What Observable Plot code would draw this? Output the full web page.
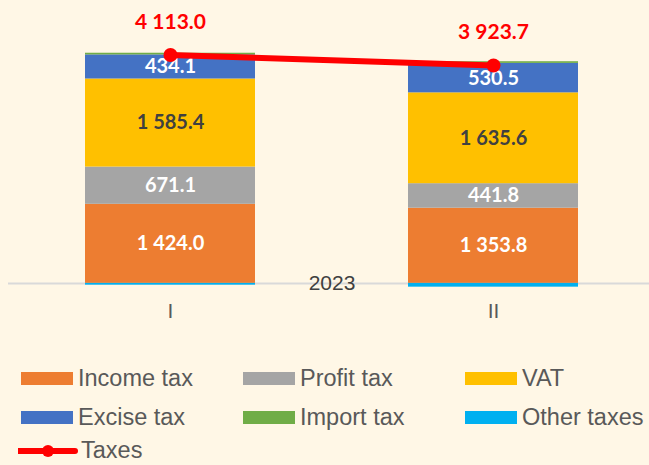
<!DOCTYPE html>
<html>
<head>
<meta charset="utf-8">
<script src="https://cdn.jsdelivr.net/npm/d3@7"></script>
<script src="https://cdn.jsdelivr.net/npm/@observablehq/plot@0.6"></script>
<style>
  html, body { margin: 0; padding: 0; background: #FFF7E6; }
  #wrap { width: 649px; height: 465px; overflow: hidden; background: #FFF7E6; }
  #legend { padding-top: 24px; padding-left: 21px; font-family: "Liberation Sans", Arial, sans-serif; font-size: 23.5px; color: #595959; }
  .row { display: flex; height: 39px; align-items: center; width: 700px; }
  .row span { line-height: 1; white-space: nowrap; }
  .item { display: flex; align-items: center; width: 222px; flex: none; }
  .sw { width: 52px; height: 13px; margin-right: 5px; flex: none; }
</style>
</head>
<body>
<div id="wrap">
  <div id="chart"></div>
  <div id="legend"></div>
</div>
<script>
const periods = ["I", "II"];
const groupLabel = "2023";
const series = ["Income tax", "Profit tax", "VAT", "Excise tax", "Import tax", "Other taxes"];
const colors = ["#ED7D31", "#A5A5A5", "#FFC000", "#4472C4", "#70AD47", "#00B0F0"];
const incomeTax = [1424.0, 1353.8];
const profitTax = [671.1, 441.8];
const vat = [1585.4, 1635.6];
const exciseTax = [434.1, 530.5];
const importTax = [30, 30];
const otherTaxes = [-32, -68];
const taxesTotal = [4113.0, 3923.7];
const lineName = "Taxes";
const labeledSeries = ["Income tax", "Profit tax", "VAT", "Excise tax"];

const seriesValues = [incomeTax, profitTax, vat, exciseTax, importTax, otherTaxes];
const rows = [];
series.forEach((s, i) => periods.forEach((p, j) => rows.push({period: p, series: s, value: seriesValues[i][j]})));
const labelRows = rows.filter(r => labeledSeries.includes(r.series));
const totals = periods.map((p, j) => ({period: p, value: taxesTotal[j]}));

const fmt = v => d3.format(",.1f")(v).replace(/,/g, " ");
const labelFont = "Lato, 'Open Sans', sans-serif";

const chart = Plot.plot({
  width: 649,
  height: 335,
  marginTop: 33,
  marginBottom: 41,
  marginLeft: 8,
  marginRight: 0,
  style: {background: "transparent", overflow: "visible"},
  x: {domain: periods, paddingInner: 0.4745, paddingOuter: 0.228, align: 0.52, axis: null, label: null},
  y: {domain: [-200, 4500], axis: null},
  color: {domain: series, range: colors},
  marks: [
    Plot.ruleY([0], {stroke: "#D9D9D9", strokeWidth: 2}),
    Plot.barY(rows, {x: "period", y: "value", fill: "series"}),
    Plot.text(labelRows, Plot.stackY({
      x: "period", y: "value", z: "series",
      text: d => fmt(d.value),
      fill: d => d.series === "VAT" ? "#404040" : "#FFFFFF",
      fontWeight: "bold", fontSize: 20, fontFamily: labelFont
    })),
    Plot.text([groupLabel], {y: () => 0, text: d => d, fontSize: 21, fill: "#404040", fontFamily: "'Liberation Sans', Arial, sans-serif", dx: 3}),
    Plot.line(totals, {x: "period", y: "value", stroke: "#FF0000", strokeWidth: 6}),
    Plot.dot(totals, {x: "period", y: "value", r: 7, fill: "#FF0000"}),
    Plot.text(totals, {x: "period", y: "value", text: d => fmt(d.value), dy: -33, fill: "#FF0000", fontWeight: "bold", fontSize: 21, fontFamily: labelFont}),
    Plot.axisX({tickSize: 0, tickPadding: 9, fontSize: 21, fill: "#595959", label: null, fontFamily: "'Liberation Sans', Arial, sans-serif"})
  ]
});
document.getElementById("chart").appendChild(chart);

// legend
const legend = document.getElementById("legend");
const legendRows = [series.slice(0, 3), series.slice(3, 6)];
legendRows.forEach(r => {
  const row = document.createElement("div");
  row.className = "row";
  r.forEach(s => {
    const it = document.createElement("div");
    it.className = "item";
    const sw = document.createElement("div");
    sw.className = "sw";
    sw.style.background = colors[series.indexOf(s)];
    const tx = document.createElement("span");
    tx.textContent = s;
    it.appendChild(sw); it.appendChild(tx);
    row.appendChild(it);
  });
  legend.appendChild(row);
});
const lrow = document.createElement("div");
lrow.className = "row";
lrow.style.marginLeft = "-3px";
lrow.style.height = "28px";
lrow.innerHTML = `<svg width="60" height="14" style="flex:none;margin-right:3px"><line x1="0" x2="57" y1="7" y2="7" stroke="#FF0000" stroke-width="6" stroke-linecap="round"/><circle cx="30" cy="7" r="6" fill="#FF0000"/></svg><span>${lineName}</span>`;
legend.appendChild(lrow);
</script>
</body>
</html>
